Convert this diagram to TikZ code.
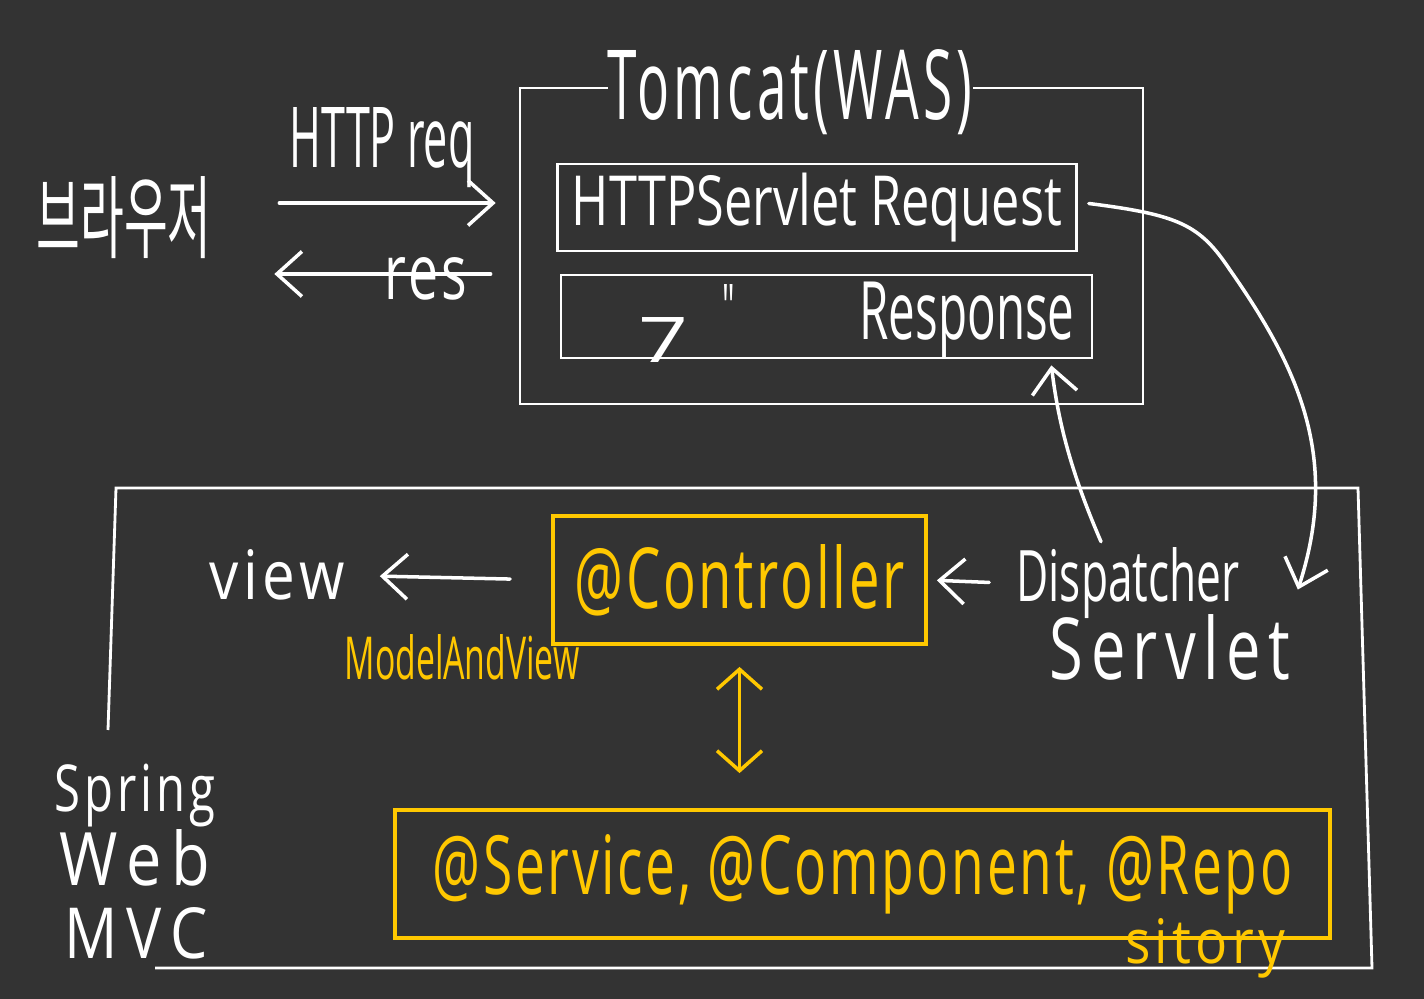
\documentclass[tikz,border=0pt]{standalone}
\usepackage{fontspec}
\setmainfont{Open Sans}
\newfontfamily\krfont{Noto Sans CJK KR}
\usetikzlibrary{arrows.meta}

\definecolor{board}{HTML}{333333}
\definecolor{marker}{HTML}{FFC800}

% hand lettering: squeeze a word into a given width and height
\newcommand{\hw}[3]{\resizebox{#1}{#2}{#3}}
% loose letters, so wide words keep thin strokes
\newcommand{\loose}[2]{{\addfontfeature{LetterSpace=#1}#2}}

\begin{document}
\begin{tikzpicture}[
    x=0.02cm, y=-0.02cm,
    chalk/.style={draw=white, line width=2pt, line cap=round, line join=round},
    frame/.style={draw=white, line width=1.6pt, inner sep=0pt, text=white},
    ybox/.style={draw=marker, line width=2.2pt, inner sep=0pt, text=marker},
    word/.style={text=white, inner sep=0pt},
    yword/.style={text=marker, inner sep=0pt},
    barb/.style={-{Straight Barb[length=5mm, width=9mm]}},
    dbarb/.style={{Straight Barb[length=4mm, width=9mm]}-{Straight Barb[length=4mm, width=9mm]}},
  ]
  \fill[board] (0,0) rectangle (1424,999);

  % browser side
  \node[word] (browser) at (124,218) {\hw{3.5cm}{1.5cm}{\krfont 브라우저}};
  \node[word, anchor=base] (httpreq) at (382,168) {\hw{3.7cm}{1.2cm}{HTTP req}};

  % tomcat
  \node[frame, minimum width=12.46cm, minimum height=6.32cm] (was) at (831.5,246) {};
  \node[word, fill=board, anchor=base] (wasname) at (790,120) {\hw{7.3cm}{1.4cm}{\loose{8}{Tomcat(WAS)}}};
  \node[frame, minimum width=10.38cm, minimum height=1.74cm] (reqbox) at (817,207.5) {\hw{9.8cm}{1.05cm}{HTTPServlet Request}};
  \node[frame, minimum width=10.62cm, minimum height=1.66cm] (resbox) at (826.5,316.5) {};
  \node[word] (ditto1) at (663,340) {\hw{1cm}{0.9cm}{7}};
  \node[word, anchor=north] (ditto2) at (729,284) {\hw{0.25cm}{0.9cm}{\textquotedbl}};
  \node[word, anchor=base] (resname) at (967,340) {\hw{4.3cm}{1.15cm}{Response}};

  \draw[chalk, barb, shorten <=1.35cm, shorten >=0.46cm] (browser.east |- 0,203) -- (was.west |- 0,203);
  \draw[chalk, barb, shorten <=0.56cm, shorten >=1.25cm] (was.west |- 0,274) -- (browser.east |- 0,274);
  \node[word, anchor=base] (res) at (426,300) {\hw{1.66cm}{0.84cm}{\loose{6}{res}}};

  % spring web mvc
  \draw[frame] (108,730) -- (116,488) -- (1358,488) -- (1372,968) -- (155,968);
  \node[word, anchor=base] (spring) at (135,812) {\hw{3.2cm}{0.95cm}{\loose{8}{Spring}}};
  \node[word, anchor=base] (web) at (135,886) {\hw{3.0cm}{1.12cm}{\loose{15}{Web}}};
  \node[word, anchor=base] (mvc) at (136,958) {\hw{2.86cm}{1.02cm}{\loose{15}{MVC}}};

  \node[ybox, minimum width=7.46cm, minimum height=2.56cm] (ctrl) at (739.5,580) {\hw{6.6cm}{1.28cm}{\loose{5}{@Controller}}};
  \node[yword, anchor=base] (mav) at (462,680) {\hw{4.7cm}{0.9cm}{ModelAndView}};
  \node[word, anchor=base] (view) at (277,600) {\hw{2.7cm}{1.0cm}{\loose{8}{view}}};
  \node[word, anchor=base] (disp) at (1128,602) {\hw{4.46cm}{1.08cm}{Dispatcher}};
  \node[word, anchor=base] (servlet) at (1170,680) {\hw{4.8cm}{1.3cm}{\loose{12}{Servlet}}};

  \node[ybox, minimum width=18.7cm, minimum height=2.56cm] (svc) at (862.5,874) {\hw{17.2cm}{1.2cm}{\loose{5}{@Service, @Component, @Repo}}};
  \node[yword, anchor=base] (sitory) at (1205,963) {\hw{3.2cm}{0.9cm}{\loose{8}{sitory}}};

  \draw[chalk, barb, shorten <=0.82cm, shorten >=0.7cm] (ctrl.west) -- (view.east);
  \draw[chalk, barb, shorten <=0.54cm, shorten >=0.18cm] (disp.west) -- (ctrl.east);
  \draw[chalk, draw=marker, dbarb, shorten <=0.42cm, shorten >=0.7cm] (ctrl.south) -- (ctrl.south |- svc.north);

  % request goes down, response comes back up
  \draw[chalk, barb] ([shift={(11,-4)}]reqbox.east) .. controls (1180,215) and (1200,225) .. (1230,270)
    .. controls (1300,370) and (1340,460) .. ([shift={(58,6)}]disp.east);
  \draw[chalk, barb] ([shift={(-27,-6)}]disp.north) .. controls (1070,470) and (1058,420) .. ([shift={(-42,6)}]resbox.south east);
\end{tikzpicture}
\end{document}
